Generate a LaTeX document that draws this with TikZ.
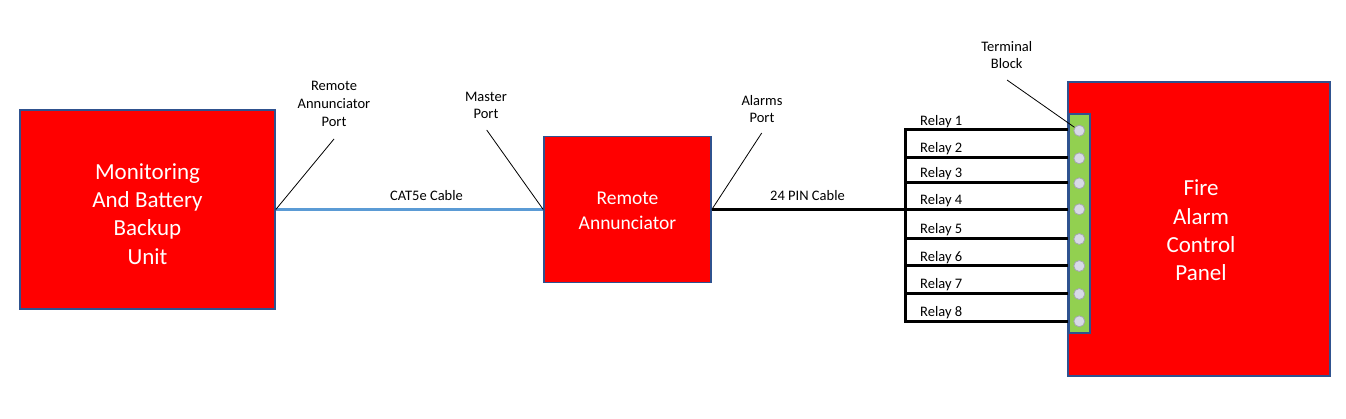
\documentclass[tikz,border=0pt]{standalone}
\usepackage{fontspec}
\setmainfont{Carlito}
\definecolor{boxred}{RGB}{255,0,0}
\definecolor{edgeblue}{RGB}{47,82,143}
\definecolor{catblue}{RGB}{91,155,213}
\definecolor{tbgreen}{RGB}{146,208,80}
\definecolor{pinfill}{RGB}{215,218,230}
\definecolor{pinedge}{RGB}{165,165,175}
\tikzset{
  redbox/.style={draw=edgeblue, line width=1.6pt, fill=boxred, inner sep=0pt, text=white, align=center},
  boxtext/.style={text=white, align=center, inner sep=0pt},
  bigtext/.style={font=\fontsize{23}{28.3}\selectfont},
  midtext/.style={font=\fontsize{19.5}{24.5}\selectfont},
  smalltext/.style={font=\fontsize{14.5}{17.7}\selectfont, inner sep=0pt, text depth=0pt, align=center},
  callout/.style={draw=black, line width=0.8pt},
  wire/.style={draw=black, line width=3pt},
  catwire/.style={draw=catblue, line width=3pt},
  pin/.style={circle, draw=pinedge, fill=pinfill, line width=0.8pt, minimum size=11pt, inner sep=0pt},
}
\begin{document}
\begin{tikzpicture}[x=1pt,y=-1pt]
\useasboundingbox (0,0) rectangle (1346,419);
\fill[white] (0,0) rectangle (1346,419);

% boxes
\node[redbox, minimum width=255pt, minimum height=199pt] (mon) at (147.5,209.5) {};
\node[boxtext, bigtext] (mont) at (147.5,214) {Monitoring\\And Battery\\Backup\\Unit};
\node[redbox, minimum width=167pt, minimum height=146pt] (ra) at (627.5,209.5) {};
\node[boxtext, midtext] (rat) at (627.5,211) {Remote\\Annunciator};
\node[redbox, minimum width=262pt, minimum height=294pt] (facp) at (1199,229) {};
\node[boxtext, bigtext] (facpt) at (1201,230.5) {Fire\\Alarm\\Control\\Panel};
\node[draw=edgeblue, line width=1.6pt, fill=tbgreen, minimum width=21.5pt, minimum height=219pt, inner sep=0pt] (tb) at (1079.5,223.5) {};

% pins
\foreach \i/\y in {1/130.7,2/158.3,3/183.3,4/209.3,5/239,6/266,7/294,8/321.3}{
  \node[pin] (p\i) at (1079.3,\y) {};
}

% cables
\draw[catwire] (mon.east) -- (ra.west);
\node[smalltext, anchor=south] (catl) at (426.5,201) {CAT5e Cable};
\coordinate (bus4) at (905,209.5);
\draw[wire] (ra.east) -- (bus4);
\node[smalltext, anchor=south] (pinl) at (807.5,201) {24 PIN Cable};

% relay bus
\coordinate (busT) at (905,130);
\coordinate (busB) at (905,322);
\draw[wire, line cap=rect] (busT) -- (busB);
\foreach \i/\y/\o in {1/130/5,2/158/6,3/183/6,4/209.5/6,5/239/6,6/266/5.5,7/294/6,8/322/6}{
  \coordinate (r\i) at (905,\y);
  \draw[wire] (r\i) -- (r\i -| tb.west);
  \node[smalltext, anchor=south west] (rl\i) at (920,\y-\o+1) {Relay \i};
}

% callouts
\node[smalltext, anchor=south] (rap) at (334,126.5) {Remote\\Annunciator\\Port};
\coordinate (rapE) at (334,139);
\draw[callout] (mon.east) -- (rapE);

\node[smalltext, anchor=south] (mp) at (486,119) {Master\\Port};
\coordinate (mpE) at (486.7,130);
\draw[callout] (mpE) -- (ra.west);

\node[smalltext, anchor=south] (ap) at (762,123) {Alarms\\Port};
\coordinate (apE) at (761.7,133);
\draw[callout] (apE) -- (ra.east);

\node[smalltext, anchor=south] (tbl) at (1006.7,69) {Terminal\\Block};
\coordinate (tblE) at (1007,80);
\draw[callout] (tblE) -- (p1);
\end{tikzpicture}
\end{document}
